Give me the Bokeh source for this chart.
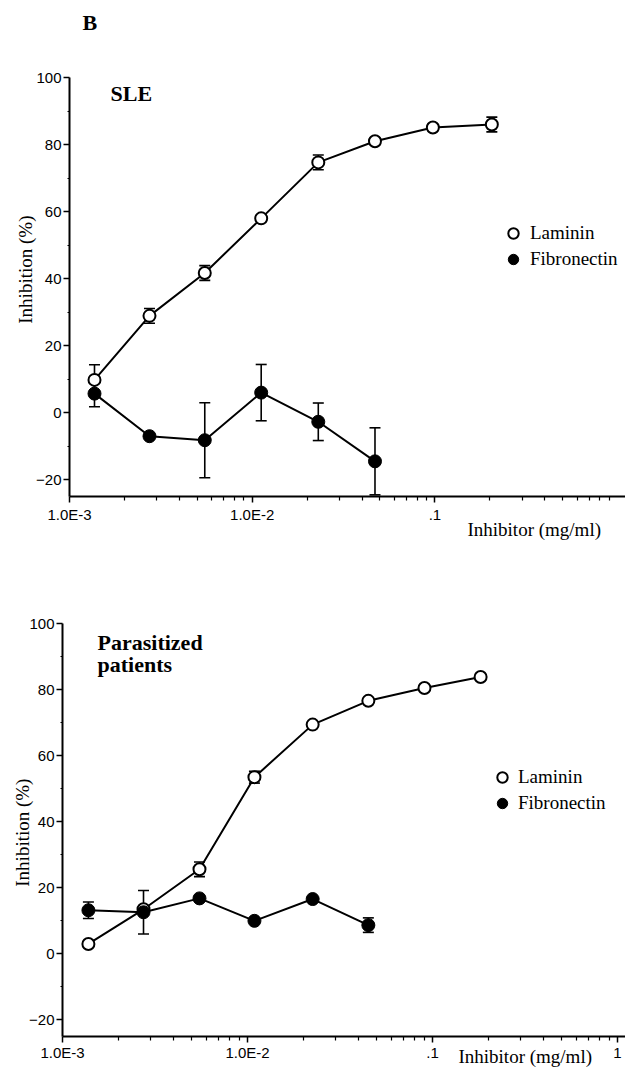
import math
from bokeh.plotting import figure
from bokeh.models import (ColumnDataSource, Whisker, TeeHead, FixedTicker, Label,
                          Legend, LegendItem, Range1d)
from bokeh.layouts import column
from bokeh.embed import file_html
from bokeh.resources import INLINE

# ---------------- data ----------------
# Panel 1: SLE
sle_conc = [0.00137, 0.00274, 0.0055, 0.0112, 0.023, 0.047, 0.0975, 0.205]
sle_laminin = [9.8, 28.9, 41.7, 58.0, 74.7, 81.0, 85.1, 86.0]
sle_laminin_err = [4.5, 2.2, 2.2, 1.0, 2.2, 1.0, 1.0, 2.2]
sle_fibronectin = [5.7, -7.0, -8.2, 6.0, -2.7, -14.5]
sle_fibronectin_err = [3.9, 0.0, 11.2, 8.4, 5.6, 10.0]

# Panel 2: Parasitized patients
par_conc = [0.00138, 0.00274, 0.0055, 0.0109, 0.0225, 0.045, 0.0905, 0.182]
par_laminin = [3.0, 13.5, 25.6, 53.5, 69.4, 76.6, 80.5, 83.8]
par_laminin_err = [0.0, 0.0, 2.2, 1.8, 0.0, 0.0, 0.0, 0.0]
par_fibronectin = [13.2, 12.6, 16.8, 10.0, 16.6, 8.7]
par_fibronectin_err = [2.5, 6.6, 0.0, 0.0, 0.0, 2.2]

x_tick_values = [0.001, 0.01, 0.1, 1.0]
x_tick_labels = ["1.0E-3", "1.0E-2", ".1", "1"]
y_tick_values = [-20, 0, 20, 40, 60, 80, 100]
y_minor_values = [-10, 10, 30, 50, 70, 90]
series_names = ["Laminin", "Fibronectin"]
x_title = "Inhibitor (mg/ml)"
y_title = "Inhibition (%)"

SANS = "Liberation Sans"
SERIF = "Liberation Serif"
X_MIN = 1e-3
Y_MIN, Y_MAX = -25, 100


def make_panel(height, xr, yr, conc, lam, lam_err, fib, fib_err, show_one,
               legend_loc, legend_standoff, ylab_pos, xlab_pos):
    p = figure(width=625, height=height, x_axis_type="log",
               x_range=Range1d(*xr), y_range=Range1d(*yr),
               output_backend="svg", toolbar_location=None,
               min_border_left=0, min_border_right=0,
               min_border_top=0, min_border_bottom=0)
    p.xgrid.visible = False
    p.ygrid.visible = False
    p.outline_line_color = None

    fconc = conc[:len(fib)]

    # error bars
    for xs, ys, es in ((conc, lam, lam_err), (fconc, fib, fib_err)):
        src = ColumnDataSource(dict(
            base=[x for x, e in zip(xs, es) if e > 0],
            upper=[y + e for y, e in zip(ys, es) if e > 0],
            lower=[y - e for y, e in zip(ys, es) if e > 0]))
        w = Whisker(base="base", upper="upper", lower="lower", source=src,
                    dimension="height", line_color="black", line_width=1.6,
                    upper_head=TeeHead(size=11, line_width=1.6, line_color="black"),
                    lower_head=TeeHead(size=11, line_width=1.6, line_color="black"))
        p.add_layout(w)

    p.line(conc, lam, line_color="black", line_width=2)
    p.line(fconc, fib, line_color="black", line_width=2)
    r_lam = p.scatter(conc, lam, marker="circle", size=12, fill_color="white",
                      line_color="black", line_width=2)
    r_fib = p.scatter(fconc, fib, marker="circle", size=13, fill_color="black",
                      line_color="black", line_width=1)

    # axes drawn at fixed data locations
    minor = [k * 10 ** e for e in (-3, -2, -1) for k in range(2, 10)]
    ticks = x_tick_values if show_one else x_tick_values[:3]
    p.xaxis.ticker = FixedTicker(ticks=ticks, minor_ticks=minor)
    p.xaxis.major_label_overrides = dict(zip(x_tick_values, x_tick_labels))
    p.yaxis.ticker = FixedTicker(ticks=y_tick_values, minor_ticks=y_minor_values)
    p.xaxis.fixed_location = Y_MIN
    p.yaxis.fixed_location = X_MIN
    p.xaxis.bounds = (X_MIN, xr[1])
    p.yaxis.bounds = (Y_MIN, Y_MAX)
    for ax in (p.xaxis[0], p.yaxis[0]):
        ax.axis_line_width = 2
        ax.axis_line_color = "black"
        ax.major_tick_in = 0
        ax.major_tick_out = 6
        ax.major_tick_line_width = 1.5
        ax.minor_tick_in = 0
        ax.minor_tick_line_width = 1.2
        ax.major_label_text_font = SANS
        ax.major_label_text_font_size = "15px"
        ax.major_label_text_color = "black"
    p.xaxis.minor_tick_out = 4
    p.yaxis.minor_tick_out = 2
    p.xaxis.major_label_standoff = 3
    p.yaxis.major_label_standoff = 2

    p.add_layout(Label(x=ylab_pos[0], y=ylab_pos[1], text=y_title, angle=math.pi / 2,
                       text_align="center", text_baseline="middle",
                       text_font=SERIF, text_font_size="19px", text_color="black"))
    p.add_layout(Label(x=xlab_pos[0], y=xlab_pos[1], text=x_title,
                       text_align="left", text_baseline="top",
                       text_font=SERIF, text_font_size="19px", text_color="black"))

    legend = Legend(items=[LegendItem(label=series_names[0], renderers=[r_lam]),
                           LegendItem(label=series_names[1], renderers=[r_fib])],
                    location=legend_loc, border_line_color=None,
                    background_fill_alpha=0, padding=0, margin=0, spacing=0,
                    glyph_width=26, glyph_height=26, label_height=26,
                    label_standoff=legend_standoff,
                    label_text_font=SERIF, label_text_font_size="19px",
                    label_text_color="black")
    p.add_layout(legend)
    return p


def title_label(x, y, text):
    return Label(x=x, y=y, text=text, text_font=SERIF, text_font_size="22px",
                 text_font_style="bold", text_color="black",
                 text_baseline="alphabetic")


# top panel: page rows 0..554, bottom panel: 554..1068
p1 = make_panel(554, (4.19e-4, 1.105), (-42.3, 123.0),
                sle_conc, sle_laminin, sle_laminin_err,
                sle_fibronectin, sle_fibronectin_err, False, (500, 282), 4,
                (5.74e-4, 42.7), (0.1508, -31.6))
p1.add_layout(title_label(1.178e-3, 116.3, "B"))
p1.add_layout(title_label(1.677e-3, 95.4, "SLE"))

p2 = make_panel(514, (4.62e-4, 1.105), (-34.7, 120.9),
                par_conc, par_laminin, par_laminin_err,
                par_fibronectin, par_fibronectin_err, True, (489, 252), 3,
                (6.08e-4, 36.7), (0.1382, -28.0))
p2.xaxis.major_label_standoff = 2
p2.add_layout(title_label(1.546e-3, 94.3, "Parasitized"))
p2.add_layout(title_label(1.546e-3, 87.6, "patients"))

layout = column(p1, p2, spacing=0)
open("out.html", "w").write(file_html(layout, INLINE))
